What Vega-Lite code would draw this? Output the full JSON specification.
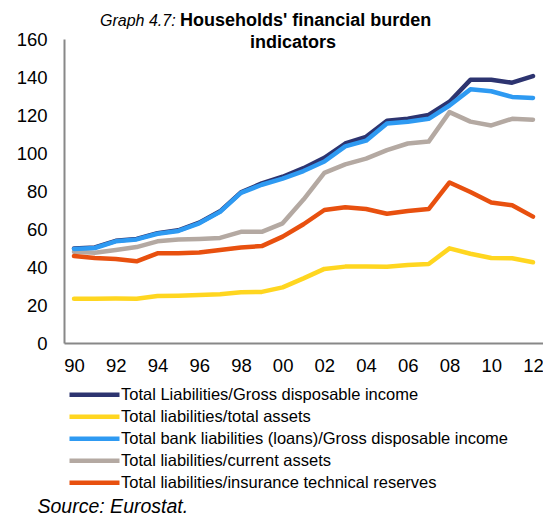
{
  "$schema": "https://vega.github.io/schema/vega-lite/v6.json",
  "width": 479,
  "height": 304,
  "autosize": {"type": "none"},
  "padding": {"left": 64, "top": 39, "right": 0, "bottom": 172},
  "background": "white",
  "config": {
    "view": {"stroke": null},
    "font": "Liberation Sans"
  },
  "title": {
    "text": "Graph 4.7:",
    "subtitle": ["\u200b\u00a0\u00a0\u00a0\u00a0\u00a0\u00a0\u00a0\u00a0\u00a0\u00a0\u00a0\u00a0\u00a0\u00a0\u00a0\u00a0Households' financial burden", "\u200b\u00a0\u00a0\u00a0\u00a0\u00a0\u00a0\u00a0\u00a0\u00a0\u00a0\u00a0\u00a0\u00a0\u00a0\u00a0\u00a0\u00a0\u00a0\u00a0\u00a0\u00a0\u00a0\u00a0\u00a0\u00a0\u00a0\u00a0\u00a0\u00a0\u00a0indicators"],
    "anchor": "start",
    "frame": "group",
    "dx": 36,
    "offset": -23,
    "font": "Liberation Sans",
    "fontSize": 16,
    "fontStyle": "italic",
    "fontWeight": "normal",
    "color": "#000000",
    "subtitleFont": "Liberation Sans",
    "subtitleFontSize": 18,
    "subtitleFontWeight": "bold",
    "subtitleColor": "#000000",
    "subtitlePadding": -17,
    "subtitleLineHeight": 22
  },
  "data": {
    "values": [
      {"year": 1990, "series": "Total Liabilities/Gross disposable income", "value": 49.8},
      {"year": 1991, "series": "Total Liabilities/Gross disposable income", "value": 50.3},
      {"year": 1992, "series": "Total Liabilities/Gross disposable income", "value": 53.8},
      {"year": 1993, "series": "Total Liabilities/Gross disposable income", "value": 54.8},
      {"year": 1994, "series": "Total Liabilities/Gross disposable income", "value": 57.8},
      {"year": 1995, "series": "Total Liabilities/Gross disposable income", "value": 59.3},
      {"year": 1996, "series": "Total Liabilities/Gross disposable income", "value": 63.3},
      {"year": 1997, "series": "Total Liabilities/Gross disposable income", "value": 69.3},
      {"year": 1998, "series": "Total Liabilities/Gross disposable income", "value": 79.3},
      {"year": 1999, "series": "Total Liabilities/Gross disposable income", "value": 84},
      {"year": 2000, "series": "Total Liabilities/Gross disposable income", "value": 87.5},
      {"year": 2001, "series": "Total Liabilities/Gross disposable income", "value": 92},
      {"year": 2002, "series": "Total Liabilities/Gross disposable income", "value": 97.5},
      {"year": 2003, "series": "Total Liabilities/Gross disposable income", "value": 105},
      {"year": 2004, "series": "Total Liabilities/Gross disposable income", "value": 108.5},
      {"year": 2005, "series": "Total Liabilities/Gross disposable income", "value": 117},
      {"year": 2006, "series": "Total Liabilities/Gross disposable income", "value": 118},
      {"year": 2007, "series": "Total Liabilities/Gross disposable income", "value": 120},
      {"year": 2008, "series": "Total Liabilities/Gross disposable income", "value": 127},
      {"year": 2009, "series": "Total Liabilities/Gross disposable income", "value": 138.5},
      {"year": 2010, "series": "Total Liabilities/Gross disposable income", "value": 138.5},
      {"year": 2011, "series": "Total Liabilities/Gross disposable income", "value": 137},
      {"year": 2012, "series": "Total Liabilities/Gross disposable income", "value": 140.5},
      {"year": 1990, "series": "Total liabilities/total assets", "value": 23.3},
      {"year": 1991, "series": "Total liabilities/total assets", "value": 23.3},
      {"year": 1992, "series": "Total liabilities/total assets", "value": 23.4},
      {"year": 1993, "series": "Total liabilities/total assets", "value": 23.3},
      {"year": 1994, "series": "Total liabilities/total assets", "value": 24.7},
      {"year": 1995, "series": "Total liabilities/total assets", "value": 24.9},
      {"year": 1996, "series": "Total liabilities/total assets", "value": 25.2},
      {"year": 1997, "series": "Total liabilities/total assets", "value": 25.7},
      {"year": 1998, "series": "Total liabilities/total assets", "value": 26.7},
      {"year": 1999, "series": "Total liabilities/total assets", "value": 26.9},
      {"year": 2000, "series": "Total liabilities/total assets", "value": 29.3},
      {"year": 2001, "series": "Total liabilities/total assets", "value": 34},
      {"year": 2002, "series": "Total liabilities/total assets", "value": 39},
      {"year": 2003, "series": "Total liabilities/total assets", "value": 40.2},
      {"year": 2004, "series": "Total liabilities/total assets", "value": 40.3},
      {"year": 2005, "series": "Total liabilities/total assets", "value": 40.1},
      {"year": 2006, "series": "Total liabilities/total assets", "value": 41.1},
      {"year": 2007, "series": "Total liabilities/total assets", "value": 41.6},
      {"year": 2008, "series": "Total liabilities/total assets", "value": 49.8},
      {"year": 2009, "series": "Total liabilities/total assets", "value": 47},
      {"year": 2010, "series": "Total liabilities/total assets", "value": 44.7},
      {"year": 2011, "series": "Total liabilities/total assets", "value": 44.6},
      {"year": 2012, "series": "Total liabilities/total assets", "value": 42.5},
      {"year": 1990, "series": "Total liabilities/current assets", "value": 48},
      {"year": 1991, "series": "Total liabilities/current assets", "value": 47.5},
      {"year": 1992, "series": "Total liabilities/current assets", "value": 49},
      {"year": 1993, "series": "Total liabilities/current assets", "value": 50.5},
      {"year": 1994, "series": "Total liabilities/current assets", "value": 53.5},
      {"year": 1995, "series": "Total liabilities/current assets", "value": 54.5},
      {"year": 1996, "series": "Total liabilities/current assets", "value": 54.8},
      {"year": 1997, "series": "Total liabilities/current assets", "value": 55.3},
      {"year": 1998, "series": "Total liabilities/current assets", "value": 58.5},
      {"year": 1999, "series": "Total liabilities/current assets", "value": 58.5},
      {"year": 2000, "series": "Total liabilities/current assets", "value": 63},
      {"year": 2001, "series": "Total liabilities/current assets", "value": 75.5},
      {"year": 2002, "series": "Total liabilities/current assets", "value": 89.5},
      {"year": 2003, "series": "Total liabilities/current assets", "value": 94},
      {"year": 2004, "series": "Total liabilities/current assets", "value": 97},
      {"year": 2005, "series": "Total liabilities/current assets", "value": 101.5},
      {"year": 2006, "series": "Total liabilities/current assets", "value": 105},
      {"year": 2007, "series": "Total liabilities/current assets", "value": 106},
      {"year": 2008, "series": "Total liabilities/current assets", "value": 121.5},
      {"year": 2009, "series": "Total liabilities/current assets", "value": 116.5},
      {"year": 2010, "series": "Total liabilities/current assets", "value": 114.5},
      {"year": 2011, "series": "Total liabilities/current assets", "value": 118},
      {"year": 2012, "series": "Total liabilities/current assets", "value": 117.5},
      {"year": 1990, "series": "Total liabilities/insurance technical reserves", "value": 45.8},
      {"year": 1991, "series": "Total liabilities/insurance technical reserves", "value": 44.7},
      {"year": 1992, "series": "Total liabilities/insurance technical reserves", "value": 44.2},
      {"year": 1993, "series": "Total liabilities/insurance technical reserves", "value": 43},
      {"year": 1994, "series": "Total liabilities/insurance technical reserves", "value": 47.2},
      {"year": 1995, "series": "Total liabilities/insurance technical reserves", "value": 47.3},
      {"year": 1996, "series": "Total liabilities/insurance technical reserves", "value": 47.6},
      {"year": 1997, "series": "Total liabilities/insurance technical reserves", "value": 49},
      {"year": 1998, "series": "Total liabilities/insurance technical reserves", "value": 50.3},
      {"year": 1999, "series": "Total liabilities/insurance technical reserves", "value": 51},
      {"year": 2000, "series": "Total liabilities/insurance technical reserves", "value": 56},
      {"year": 2001, "series": "Total liabilities/insurance technical reserves", "value": 62.5},
      {"year": 2002, "series": "Total liabilities/insurance technical reserves", "value": 70},
      {"year": 2003, "series": "Total liabilities/insurance technical reserves", "value": 71.5},
      {"year": 2004, "series": "Total liabilities/insurance technical reserves", "value": 70.5},
      {"year": 2005, "series": "Total liabilities/insurance technical reserves", "value": 68},
      {"year": 2006, "series": "Total liabilities/insurance technical reserves", "value": 69.5},
      {"year": 2007, "series": "Total liabilities/insurance technical reserves", "value": 70.5},
      {"year": 2008, "series": "Total liabilities/insurance technical reserves", "value": 84.5},
      {"year": 2009, "series": "Total liabilities/insurance technical reserves", "value": 79.5},
      {"year": 2010, "series": "Total liabilities/insurance technical reserves", "value": 74},
      {"year": 2011, "series": "Total liabilities/insurance technical reserves", "value": 72.5},
      {"year": 2012, "series": "Total liabilities/insurance technical reserves", "value": 66.5},
      {"year": 1990, "series": "Total bank liabilities (loans)/Gross disposable income", "value": 49.5},
      {"year": 1991, "series": "Total bank liabilities (loans)/Gross disposable income", "value": 50},
      {"year": 1992, "series": "Total bank liabilities (loans)/Gross disposable income", "value": 53.5},
      {"year": 1993, "series": "Total bank liabilities (loans)/Gross disposable income", "value": 54.5},
      {"year": 1994, "series": "Total bank liabilities (loans)/Gross disposable income", "value": 57.5},
      {"year": 1995, "series": "Total bank liabilities (loans)/Gross disposable income", "value": 59},
      {"year": 1996, "series": "Total bank liabilities (loans)/Gross disposable income", "value": 63},
      {"year": 1997, "series": "Total bank liabilities (loans)/Gross disposable income", "value": 69},
      {"year": 1998, "series": "Total bank liabilities (loans)/Gross disposable income", "value": 79},
      {"year": 1999, "series": "Total bank liabilities (loans)/Gross disposable income", "value": 83.3},
      {"year": 2000, "series": "Total bank liabilities (loans)/Gross disposable income", "value": 86.5},
      {"year": 2001, "series": "Total bank liabilities (loans)/Gross disposable income", "value": 90.5},
      {"year": 2002, "series": "Total bank liabilities (loans)/Gross disposable income", "value": 95.5},
      {"year": 2003, "series": "Total bank liabilities (loans)/Gross disposable income", "value": 103.5},
      {"year": 2004, "series": "Total bank liabilities (loans)/Gross disposable income", "value": 106.5},
      {"year": 2005, "series": "Total bank liabilities (loans)/Gross disposable income", "value": 115.5},
      {"year": 2006, "series": "Total bank liabilities (loans)/Gross disposable income", "value": 116.5},
      {"year": 2007, "series": "Total bank liabilities (loans)/Gross disposable income", "value": 118},
      {"year": 2008, "series": "Total bank liabilities (loans)/Gross disposable income", "value": 125},
      {"year": 2009, "series": "Total bank liabilities (loans)/Gross disposable income", "value": 133.5},
      {"year": 2010, "series": "Total bank liabilities (loans)/Gross disposable income", "value": 132.5},
      {"year": 2011, "series": "Total bank liabilities (loans)/Gross disposable income", "value": 129.5},
      {"year": 2012, "series": "Total bank liabilities (loans)/Gross disposable income", "value": 129}
    ]
  },
  "mark": {"type": "line", "strokeWidth": 4.5, "strokeCap": "round", "strokeJoin": "round"},
  "encoding": {
    "x": {
      "field": "year",
      "type": "quantitative",
      "scale": {"domain": [1989.52, 2012.48], "nice": false, "zero": false},
      "axis": {
        "values": [1990, 1992, 1994, 1996, 1998, 2000, 2002, 2004, 2006, 2008, 2010, 2012],
        "format": "d",
        "labelExpr": "slice(datum.label, -2)",
        "ticks": false,
        "grid": false,
        "domainColor": "#888888",
        "domainWidth": 2,
        "labelFont": "Liberation Sans",
        "labelFontSize": 18.5,
        "labelColor": "#000000",
        "labelPadding": 13,
        "labelFlush": false,
        "labelOverlap": false,
        "title": "Source: Eurostat.",
        "titleX": -27,
        "titleY": 169,
        "titleAlign": "left",
        "titleBaseline": "alphabetic",
        "titleFont": "Liberation Sans",
        "titleFontSize": 19.5,
        "titleFontStyle": "italic",
        "titleFontWeight": "normal",
        "titleColor": "#000000"
      }
    },
    "y": {
      "field": "value",
      "type": "quantitative",
      "scale": {"domain": [0, 160], "nice": false},
      "axis": {
        "values": [0, 20, 40, 60, 80, 100, 120, 140, 160],
        "ticks": false,
        "grid": false,
        "domainColor": "#888888",
        "domainWidth": 2,
        "labelFont": "Liberation Sans",
        "labelFontSize": 18.5,
        "labelColor": "#000000",
        "labelPadding": 17,
        "labelFlush": false,
        "labelOverlap": false,
        "title": null
      }
    },
    "color": {
      "field": "series",
      "type": "nominal",
      "scale": {
        "domain": [
          "Total Liabilities/Gross disposable income",
          "Total liabilities/total assets",
          "Total bank liabilities (loans)/Gross disposable income",
          "Total liabilities/current assets",
          "Total liabilities/insurance technical reserves"
        ],
        "range": ["#2d3470", "#ffd620", "#2e9af2", "#b4a9a2", "#e8500f"]
      },
      "legend": {
        "orient": "none",
        "legendX": 3,
        "legendY": 345,
        "title": null,
        "direction": "vertical",
        "symbolType": "stroke",
        "symbolSize": 2500,
        "symbolStrokeWidth": 4.5,
        "labelFont": "Liberation Sans",
        "labelFontSize": 16.5,
        "labelColor": "#000000",
        "labelOffset": -1,
        "rowPadding": 0,
        "clipHeight": 21.4,
        "labelLimit": 600
      }
    }
  }
}
